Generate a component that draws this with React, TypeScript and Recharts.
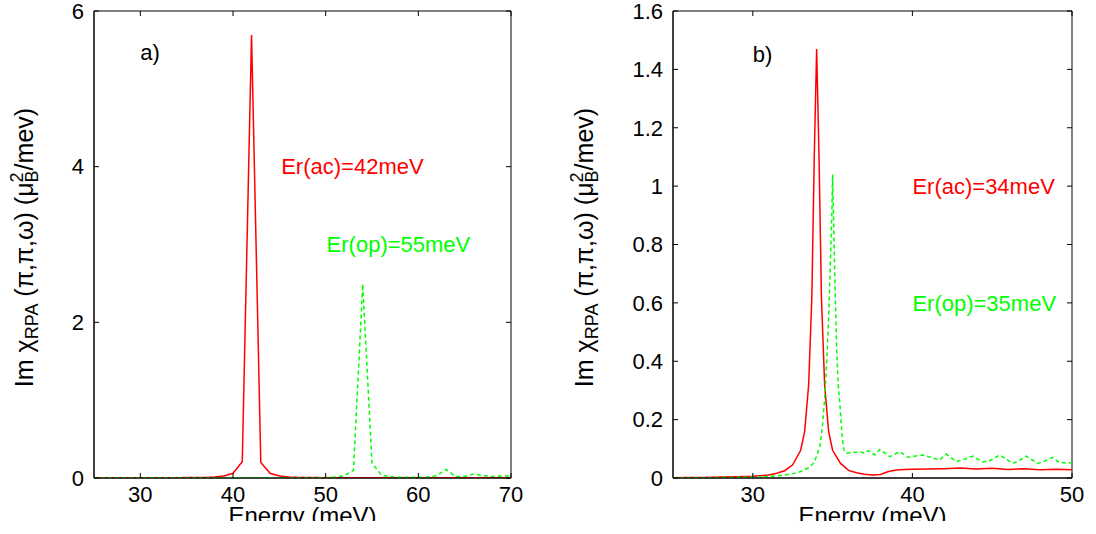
import { LineChart, Line, XAxis, YAxis, ReferenceDot, ReferenceArea, Label } from 'recharts';

// panel a) : sampled every 1 meV
const aEnergy = [
  25, 26, 27, 28, 29, 30, 31, 32, 33, 34, 35, 36, 37, 38, 39, 40, 41, 42, 43, 44, 45, 46, 47,
  48, 49, 50, 51, 52, 53, 54, 55, 56, 57, 58, 59, 60, 61, 62, 63, 64, 65, 66, 67, 68, 69, 70,
];
const aAcoustic = [
  0.002, 0.002, 0.002, 0.002, 0.002, 0.002, 0.003, 0.003, 0.003, 0.004, 0.005, 0.006, 0.008,
  0.012, 0.025, 0.06, 0.21, 5.69, 0.2, 0.06, 0.025, 0.012, 0.008, 0.006, 0.005, 0.004, 0.004,
  0.003, 0.003, 0.003, 0.003, 0.003, 0.003, 0.003, 0.003, 0.003, 0.003, 0.003, 0.003, 0.003,
  0.003, 0.003, 0.003, 0.003, 0.003, 0.003,
];
const aOptical = [
  0.002, 0.002, 0.002, 0.002, 0.002, 0.002, 0.002, 0.002, 0.002, 0.002, 0.002, 0.002, 0.002,
  0.002, 0.002, 0.002, 0.002, 0.002, 0.002, 0.002, 0.002, 0.002, 0.002, 0.002, 0.002, 0.005,
  0.01, 0.03, 0.1, 2.49, 0.19, 0.04, 0.015, 0.01, 0.008, 0.01, 0.012, 0.03, 0.11, 0.02, 0.02,
  0.05, 0.03, 0.02, 0.025, 0.03,
];

// panel b)
const bAcEnergy = [
  25, 26, 27, 28, 29, 30, 31, 31.5, 32, 32.5, 33, 33.25, 33.5, 33.7, 33.85, 34, 34.15, 34.3,
  34.5, 34.75, 35, 35.5, 36, 36.5, 37, 37.5, 38, 38.5, 39, 39.5, 40, 41, 42, 43, 44, 45, 46, 47,
  48, 49, 50,
];
const bAcValue = [
  0.001, 0.0015, 0.002, 0.003, 0.004, 0.006, 0.01, 0.016, 0.025, 0.045, 0.095, 0.16, 0.32, 0.62,
  1.1, 1.47, 1.1, 0.62, 0.32, 0.16, 0.095, 0.05, 0.026, 0.018, 0.013, 0.01, 0.012, 0.022, 0.027,
  0.029, 0.03, 0.031, 0.032, 0.034, 0.031, 0.033, 0.029, 0.032, 0.028, 0.03, 0.028,
];
const bOpEnergy = [
  25, 27, 29, 30, 31, 32, 32.5, 33, 33.5, 33.8, 34, 34.2, 34.35, 34.5, 34.65, 34.75, 34.85, 34.95,
  35, 35.05, 35.15, 35.25, 35.35, 35.46, 35.6, 35.71, 35.87, 36.2, 36.71, 37.0, 37.23, 37.64,
  37.96, 38.58, 39.21, 39.73, 40.2, 40.66, 41.2, 41.71, 42.13, 42.75, 43.3, 43.79, 44.41, 44.9,
  45.46, 46.29, 46.7, 47.13, 47.85, 48.3, 48.79, 49.21, 50,
];
const bOpValue = [
  0.001, 0.001, 0.002, 0.003, 0.005, 0.01, 0.015, 0.022, 0.035, 0.05, 0.075, 0.107, 0.17, 0.27,
  0.42, 0.55, 0.72, 0.9, 1.04, 0.92, 0.66, 0.45, 0.32, 0.25, 0.14, 0.096, 0.085, 0.087, 0.09,
  0.085, 0.094, 0.079, 0.098, 0.073, 0.09, 0.071, 0.075, 0.079, 0.07, 0.062, 0.082, 0.056, 0.065,
  0.075, 0.055, 0.06, 0.079, 0.05, 0.06, 0.075, 0.05, 0.058, 0.071, 0.052, 0.052,
];

const aXTicks = [30, 40, 50, 60, 70];
const aYTicks = [0, 2, 4, 6];
const bXTicks = [30, 40, 50];
const bYTicks = [0, 0.2, 0.4, 0.6, 0.8, 1, 1.2, 1.4, 1.6];

const aNotes = [
  { e: 30, v: 5.37, text: 'a)', color: '#000' },
  { e: 45.2, v: 3.9, text: 'Er(ac)=42meV', color: '#ff0000' },
  { e: 50.1, v: 2.91, text: 'Er(op)=55meV', color: '#00ff00' },
];
const bNotes = [
  { e: 30, v: 1.425, text: 'b)', color: '#000' },
  { e: 40.0, v: 0.973, text: 'Er(ac)=34meV', color: '#ff0000' },
  { e: 40.0, v: 0.572, text: 'Er(op)=35meV', color: '#00ff00' },
];

const zip = (xs: number[], ys: number[]) => xs.map((e, i) => ({ e, v: ys[i] }));

const FONT = '"Liberation Sans", Arial, sans-serif';
const PLOT_TOP = 11;
const TICK = 5;

// bottom tick: label + inward tick mirrored on the top edge
const BottomTick = ({ x, y, payload }: any) => (
  <g>
    <line x1={x} x2={x} y1={PLOT_TOP} y2={PLOT_TOP + TICK} stroke="#000" />
    <text x={x} y={y} dy="0.71em" textAnchor="middle" fontSize={22} fontFamily={FONT} fill="#000">
      {payload.value}
    </text>
  </g>
);

// left tick: label + inward tick mirrored on the right edge
const LeftTick = ({ x, y, payload, plotRight }: any) => (
  <g>
    <line x1={plotRight - TICK} x2={plotRight} y1={y} y2={y} stroke="#000" />
    <text x={x} y={y} dy="0.355em" textAnchor="end" fontSize={22} fontFamily={FONT} fill="#000">
      {payload.value}
    </text>
  </g>
);

const YTitle = ({ viewBox, dx }: any) => {
  const x = viewBox.x + dx;
  const y = viewBox.y + viewBox.height / 2 + 3;
  return (
    <text
      x={x}
      y={y}
      transform={`rotate(-90, ${x}, ${y})`}
      textAnchor="middle"
      fontSize={25}
      fontFamily={FONT}
      fill="#000"
    >
      Im χ
      <tspan fontSize={18} dy={5}>RPA</tspan>
      <tspan dy={-5}> (π,π,ω) (μ</tspan>
      <tspan fontSize={18} dy={-10}>2</tspan>
      <tspan fontSize={18} dx={-10} dy={15}>B</tspan>
      <tspan dy={-5}>/mev)</tspan>
    </text>
  );
};

const XTitle = ({ viewBox }: any) => (
  <text
    x={viewBox.x + viewBox.width / 2}
    y={viewBox.y + 46}
    textAnchor="middle"
    fontSize={24}
    fontFamily={FONT}
    fill="#000"
  >
    Energy (meV)
  </text>
);

const Note = ({ viewBox, text, color }: any) => (
  <text x={viewBox.x} y={viewBox.y} fill={color} fontSize={22} fontFamily={FONT}>
    {text}
  </text>
);

type PanelProps = {
  left: number;
  xDomain: number[];
  xTicks: number[];
  yDomain: number[];
  yTicks: number[];
  acoustic: { e: number; v: number }[];
  optical: { e: number; v: number }[];
  notes: { e: number; v: number; text: string; color: string }[];
  yAxisWidth: number;
  marginRight: number;
  titleDx: number;
};

const CHART_W = 548;
const frame = { stroke: '#000', strokeWidth: 1 };

const Panel = (p: PanelProps) => (
  <div style={{ position: 'absolute', left: p.left, top: 0 }}>
    <LineChart
      width={CHART_W}
      height={521}
      margin={{ top: PLOT_TOP, right: p.marginRight, bottom: 0, left: 0 }}
    >
      <XAxis
        dataKey="e"
        type="number"
        domain={p.xDomain}
        ticks={p.xTicks}
        interval={0}
        allowDataOverflow
        height={43}
        tickSize={-TICK}
        tickMargin={13}
        axisLine={frame}
        tickLine={frame}
        tick={<BottomTick />}
        label={<Label content={(props: any) => <XTitle {...props} />} />}
      />
      <YAxis
        type="number"
        domain={p.yDomain}
        ticks={p.yTicks}
        interval={0}
        allowDataOverflow
        width={p.yAxisWidth}
        tickSize={-TICK}
        tickMargin={15}
        axisLine={frame}
        tickLine={frame}
        tick={<LeftTick plotRight={CHART_W - p.marginRight} />}
        label={<Label content={(props: any) => <YTitle {...props} dx={p.titleDx} />} />}
      />
      <ReferenceArea
        x1={p.xDomain[0]}
        x2={p.xDomain[1]}
        y1={p.yDomain[0]}
        y2={p.yDomain[1]}
        fill="none"
        stroke="#000"
        strokeWidth={1}
        fillOpacity={0}
        strokeOpacity={1}
      />
      <Line
        data={p.acoustic}
        dataKey="v"
        type="linear"
        stroke="#ff0000"
        strokeWidth={1.5}
        dot={false}
        isAnimationActive={false}
      />
      <Line
        data={p.optical}
        dataKey="v"
        type="linear"
        stroke="#00ff00"
        strokeWidth={1.5}
        strokeDasharray="4 3"
        dot={false}
        isAnimationActive={false}
      />
      {p.notes.map((n) => (
        <ReferenceDot
          key={n.text}
          x={n.e}
          y={n.v}
          r={0}
          fill="none"
          stroke="none"
          label={<Label content={(props: any) => <Note {...props} text={n.text} color={n.color} />} />}
        />
      ))}
    </LineChart>
  </div>
);

export default function App() {
  return (
    <div
      style={{
        position: 'absolute',
        left: 0,
        top: 0,
        width: 1096,
        height: 534,
        background: '#fff',
        fontFamily: FONT,
      }}
    >
      <Panel
        left={0}
        xDomain={[25, 70]}
        xTicks={aXTicks}
        yDomain={[0, 6]}
        yTicks={aYTicks}
        acoustic={zip(aEnergy, aAcoustic)}
        optical={zip(aEnergy, aOptical)}
        notes={aNotes}
        yAxisWidth={94}
        marginRight={37}
        titleDx={33}
      />
      <Panel
        left={548}
        xDomain={[25, 50]}
        xTicks={bXTicks}
        yDomain={[0, 1.6]}
        yTicks={bYTicks}
        acoustic={zip(bAcEnergy, bAcValue)}
        optical={zip(bOpEnergy, bOpValue)}
        notes={bNotes}
        yAxisWidth={125}
        marginRight={24}
        titleDx={45}
      />
    </div>
  );
}
